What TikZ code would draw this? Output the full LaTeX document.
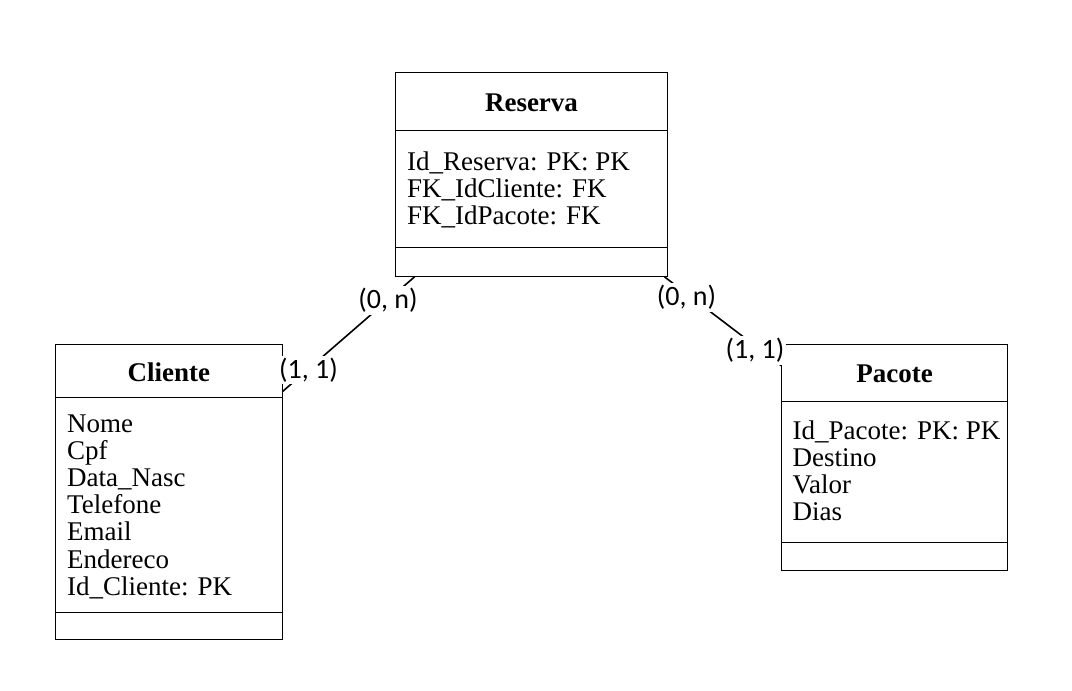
\documentclass[tikz,border=0pt]{standalone}
\usepackage{fontspec}
\setmainfont{Liberation Serif}
\newfontfamily\lblfont{Carlito}
\usetikzlibrary{calc}
\begin{document}
\begin{tikzpicture}[x=1pt,y=-1pt,
  classbox/.style={draw, line width=0.9pt, anchor=north west, inner sep=0pt, outer sep=0pt},
  divider/.style={line width=0.9pt},
  title/.style={font=\fontsize{27}{27}\selectfont\bfseries, anchor=base, inner sep=0pt},
  attr/.style={font=\fontsize{27}{27}\selectfont, anchor=base west, inner sep=0pt},
  conn/.style={line width=1.6pt},
  card/.style={font=\lblfont\fontsize{28}{28}\selectfont, fill=white, inner sep=2pt}
]
\useasboundingbox (0,0) rectangle (1072,691);

% Reserva
\node[classbox, minimum width=271.6pt, minimum height=204.4pt] (reserva) at (395.7,72.3) {};
\draw[divider] ($(reserva.north west)+(0,58)$) -- ($(reserva.north east)+(0,58)$);
\draw[divider] ($(reserva.north west)+(0,175)$) -- ($(reserva.north east)+(0,175)$);
\node[title] (reservaT) at (531.5,111) {Reserva};
\foreach \t [count=\i] in {Id\_Reserva: PK: PK, FK\_IdCliente: FK, FK\_IdPacote: FK}
  \node[attr] (ra\i) at (407,170.5+27*\i-27) {\t};

% Cliente
\node[classbox, minimum width=227pt, minimum height=294.3pt] (cliente) at (55.3,344.7) {};
\draw[divider] ($(cliente.north west)+(0,53)$) -- ($(cliente.north east)+(0,53)$);
\draw[divider] ($(cliente.north west)+(0,267.6)$) -- ($(cliente.north east)+(0,267.6)$);
\node[title] (clienteT) at (168.8,381) {Cliente};
\foreach \t [count=\i] in {Nome, Cpf, Data\_Nasc, Telefone, Email, Endereco, Id\_Cliente: PK}
  \node[attr] (ca\i) at (67,432+27.2*\i-27.2) {\t};

% Pacote
\node[classbox, minimum width=226.4pt, minimum height=226pt] (pacote) at (781.3,344.7) {};
\draw[divider] ($(pacote.north west)+(0,56.6)$) -- ($(pacote.north east)+(0,56.6)$);
\draw[divider] ($(pacote.north west)+(0,197.6)$) -- ($(pacote.north east)+(0,197.6)$);
\node[title] (pacoteT) at (894.5,382) {Pacote};
\foreach \t [count=\i] in {Id\_Pacote: PK: PK, Destino, Valor, Dias}
  \node[attr] (pa\i) at (792.5,439+27*\i-27) {\t};

% connectors
\coordinate (r1) at ($(reserva.south west)+(19,0)$);
\coordinate (c1) at ($(cliente.north east)+(0,47)$);
\coordinate (r2) at ($(reserva.south east)+(-3,0)$);
\coordinate (p1) at ($(pacote.north west)+(0,21)$);
\draw[conn] (r1) -- (c1);
\draw[conn] (r2) -- (p1);

% cardinalities
\node[card] (l1) at (388,300.5) {(0, n)};
\node[card] (l2) at (308.5,370) {(1, 1)};
\node[card] (l3) at (686.5,297.5) {(0, n)};
\node[card] (l4) at (755,350.5) {(1, 1)};
\end{tikzpicture}
\end{document}
